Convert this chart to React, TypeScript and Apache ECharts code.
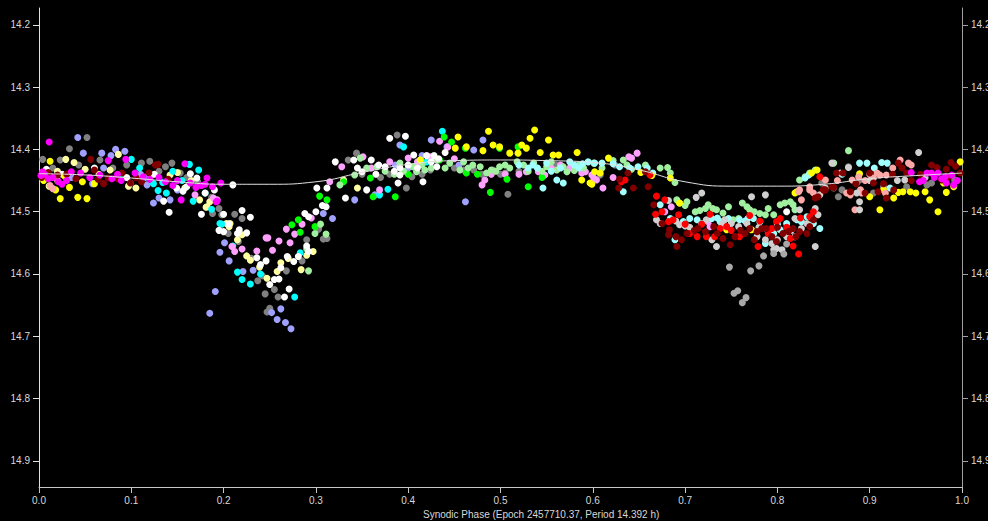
import React, { useEffect, useRef } from "react";
import * as echarts from "echarts";

const yTicks = [14.2, 14.3, 14.4, 14.5, 14.6, 14.7, 14.8, 14.9];
const axisTitle = "Synodic Phase (Epoch 2457710.37, Period 14.392 h)";

const fitPhase = [0, 0.05, 0.1, 0.15, 0.2, 0.25, 0.3, 0.35, 0.4, 0.45, 0.5, 0.55, 0.6, 0.65, 0.7, 0.75, 0.8, 0.85, 0.9, 0.95, 1.0];
const fitMag = [14.439, 14.441, 14.446, 14.452, 14.456, 14.456, 14.452, 14.437, 14.424, 14.418, 14.417, 14.418, 14.421, 14.433, 14.452, 14.459, 14.459, 14.456, 14.447, 14.442, 14.438];

const magenta = [
  [0.002, 14.442], [0.004, 14.436], [0.006, 14.44], [0.01, 14.447], [0.011, 14.388], [0.015, 14.445], [0.021, 14.452], [0.025, 14.456], [0.03, 14.45], [0.035, 14.436], [0.045, 14.438], [0.055, 14.445], [0.066, 14.441], [0.075, 14.418], [0.079, 14.447], [0.085, 14.44], [0.089, 14.45], [0.094, 14.416], [0.104, 14.438], [0.113, 14.444], [0.12, 14.448], [0.13, 14.445], [0.137, 14.452], [0.145, 14.458], [0.15, 14.45], [0.154, 14.481], [0.158, 14.423], [0.164, 14.454], [0.17, 14.461], [0.176, 14.458], [0.18, 14.456], [0.182, 14.446], [0.188, 14.46], [0.192, 14.484], [0.193, 14.483], [0.197, 14.454],
  [0.945, 14.437], [0.954, 14.452], [0.958, 14.45], [0.962, 14.438], [0.967, 14.438], [0.97, 14.445], [0.974, 14.438], [0.978, 14.447], [0.982, 14.444], [0.983, 14.454], [0.989, 14.441], [0.991, 14.457], [0.995, 14.45],
];

const yellow = [
  [0.005, 14.45], [0.012, 14.419], [0.018, 14.465], [0.023, 14.479], [0.028, 14.443], [0.033, 14.461], [0.042, 14.477], [0.047, 14.452], [0.052, 14.479], [0.06, 14.455],
  [0.413, 14.417], [0.451, 14.398], [0.454, 14.38], [0.463, 14.396], [0.481, 14.402], [0.487, 14.371], [0.492, 14.393], [0.499, 14.396], [0.51, 14.406], [0.519, 14.406], [0.523, 14.393], [0.528, 14.398], [0.532, 14.382], [0.537, 14.369], [0.543, 14.405], [0.552, 14.385], [0.557, 14.409], [0.563, 14.409], [0.583, 14.405], [0.588, 14.449], [0.597, 14.454],
  [0.599, 14.456], [0.602, 14.436], [0.608, 14.438], [0.617, 14.414], [0.652, 14.437], [0.664, 14.442], [0.684, 14.446],
  [0.694, 14.486], [0.74, 14.524], [0.745, 14.529], [0.772, 14.529], [0.819, 14.47], [0.821, 14.468],
  [0.837, 14.438], [0.843, 14.433], [0.889, 14.439], [0.9, 14.476], [0.911, 14.497], [0.915, 14.465], [0.926, 14.478], [0.931, 14.469], [0.936, 14.468], [0.944, 14.468], [0.95, 14.47], [0.96, 14.468], [0.965, 14.481], [0.974, 14.5], [0.98, 14.454], [0.983, 14.469], [0.991, 14.46], [0.998, 14.42],
];

const darkRed = [
  [0.003, 14.445], [0.01, 14.437], [0.02, 14.441], [0.03, 14.44], [0.04, 14.447], [0.056, 14.416], [0.06, 14.433], [0.064, 14.448], [0.07, 14.455], [0.075, 14.446], [0.085, 14.447], [0.09, 14.438], [0.099, 14.454], [0.105, 14.445], [0.111, 14.452], [0.119, 14.438], [0.126, 14.425], [0.129, 14.424], [0.14, 14.448],
  [0.628, 14.462], [0.629, 14.448], [0.638, 14.438], [0.644, 14.462], [0.657, 14.436], [0.66, 14.46], [0.666, 14.489], [0.675, 14.519], [0.682, 14.537], [0.683, 14.529], [0.69, 14.54], [0.691, 14.556], [0.696, 14.545], [0.702, 14.535], [0.71, 14.53], [0.714, 14.527], [0.722, 14.532], [0.731, 14.524], [0.735, 14.535], [0.741, 14.543], [0.749, 14.553], [0.754, 14.54], [0.76, 14.53], [0.765, 14.535], [0.77, 14.527], [0.775, 14.545], [0.778, 14.532], [0.783, 14.527], [0.788, 14.527], [0.794, 14.54], [0.799, 14.548], [0.8, 14.525], [0.806, 14.535], [0.812, 14.532], [0.817, 14.527], [0.82, 14.54], [0.824, 14.532], [0.832, 14.535], [0.835, 14.524], [0.839, 14.513], [0.841, 14.478], [0.844, 14.476], [0.85, 14.465], [0.852, 14.465], [0.859, 14.46], [0.861, 14.461], [0.864, 14.438],
  [0.871, 14.438], [0.879, 14.468], [0.885, 14.455], [0.895, 14.47], [0.9, 14.438], [0.904, 14.454], [0.909, 14.468], [0.915, 14.455], [0.918, 14.478], [0.925, 14.44], [0.926, 14.465], [0.931, 14.422], [0.935, 14.43], [0.94, 14.438], [0.945, 14.45], [0.955, 14.44], [0.967, 14.425], [0.973, 14.429], [0.978, 14.449], [0.983, 14.432], [0.985, 14.445], [0.988, 14.421], [0.993, 14.427], [0.998, 14.438],
];

const salmon = [
  [0.012, 14.458], [0.015, 14.463], [0.02, 14.45],
  [0.823, 14.468], [0.824, 14.465], [0.826, 14.481], [0.835, 14.46], [0.835, 14.465], [0.839, 14.47], [0.852, 14.449], [0.865, 14.45], [0.875, 14.47], [0.879, 14.473], [0.881, 14.449], [0.884, 14.497], [0.888, 14.444], [0.89, 14.465], [0.891, 14.47], [0.895, 14.45], [0.9, 14.44], [0.904, 14.446], [0.908, 14.438], [0.911, 14.441], [0.917, 14.47], [0.918, 14.441], [0.925, 14.43], [0.933, 14.417], [0.942, 14.422], [0.945, 14.425],
];

const gray = [
  [0.004, 14.416], [0.015, 14.43], [0.023, 14.417], [0.033, 14.399], [0.043, 14.425], [0.052, 14.381], [0.066, 14.417], [0.08, 14.43], [0.095, 14.425], [0.111, 14.422], [0.12, 14.419], [0.13, 14.435], [0.137, 14.428], [0.144, 14.422], [0.153, 14.438], [0.16, 14.445], [0.172, 14.452], [0.187, 14.477], [0.188, 14.503], [0.195, 14.495], [0.198, 14.505], [0.205, 14.535], [0.212, 14.504], [0.216, 14.548], [0.22, 14.511], [0.23, 14.575], [0.237, 14.611], [0.242, 14.603], [0.245, 14.632], [0.247, 14.661], [0.25, 14.655], [0.255, 14.625], [0.259, 14.637], [0.268, 14.595], [0.285, 14.579], [0.29, 14.545], [0.303, 14.528], [0.308, 14.544], [0.312, 14.543],
  [0.335, 14.417], [0.344, 14.406], [0.35, 14.44], [0.37, 14.445], [0.38, 14.44], [0.388, 14.377], [0.398, 14.462], [0.404, 14.444], [0.415, 14.44], [0.424, 14.433], [0.45, 14.43], [0.46, 14.433], [0.471, 14.433], [0.48, 14.44], [0.492, 14.433], [0.5, 14.44], [0.505, 14.438], [0.508, 14.472], [0.52, 14.435], [0.54, 14.43], [0.56, 14.425], [0.608, 14.441], [0.624, 14.425],
  [0.848, 14.454], [0.861, 14.462], [0.866, 14.476], [0.87, 14.465], [0.877, 14.428], [0.886, 14.454], [0.889, 14.449], [0.904, 14.47], [0.915, 14.46], [0.94, 14.46], [0.962, 14.457], [0.967, 14.454], [0.992, 14.449],
];

const silver = [
  [0.748, 14.589], [0.753, 14.631], [0.757, 14.627], [0.762, 14.646], [0.766, 14.638], [0.771, 14.595], [0.78, 14.587], [0.785, 14.571], [0.796, 14.567], [0.807, 14.568], [0.81, 14.552],
];

const lavender = [
  [0.035, 14.445], [0.042, 14.381], [0.048, 14.406], [0.058, 14.455], [0.068, 14.406], [0.07, 14.43], [0.078, 14.41], [0.083, 14.4], [0.093, 14.403], [0.099, 14.454], [0.11, 14.44], [0.117, 14.457], [0.124, 14.486], [0.13, 14.478], [0.142, 14.481], [0.15, 14.465],
  [0.185, 14.663], [0.191, 14.628], [0.196, 14.565], [0.201, 14.55], [0.206, 14.579], [0.221, 14.596], [0.232, 14.594], [0.252, 14.662], [0.258, 14.673], [0.262, 14.656], [0.267, 14.678], [0.273, 14.688], [0.308, 14.503], [0.318, 14.511], [0.342, 14.481], [0.364, 14.473],
  [0.386, 14.425], [0.391, 14.393], [0.4, 14.43], [0.415, 14.41], [0.425, 14.385], [0.442, 14.396], [0.455, 14.425], [0.462, 14.484], [0.471, 14.401], [0.481, 14.385],
];

const cyan = [
  [0.088, 14.441], [0.1, 14.416], [0.109, 14.43], [0.115, 14.445], [0.124, 14.455], [0.129, 14.466], [0.134, 14.453], [0.138, 14.47], [0.145, 14.435], [0.155, 14.45], [0.163, 14.424], [0.167, 14.483], [0.173, 14.433], [0.18, 14.47], [0.187, 14.496], [0.196, 14.519], [0.198, 14.52], [0.21, 14.555], [0.215, 14.597], [0.22, 14.609], [0.229, 14.616], [0.24, 14.6], [0.277, 14.637], [0.283, 14.566],
  [0.369, 14.473], [0.378, 14.464], [0.395, 14.396], [0.41, 14.425], [0.42, 14.42], [0.437, 14.371],
];

const khaki = [
  [0.011, 14.459], [0.02, 14.435], [0.029, 14.416], [0.038, 14.421], [0.05, 14.432], [0.065, 14.44], [0.077, 14.433], [0.086, 14.408], [0.097, 14.459], [0.105, 14.462], [0.12, 14.445], [0.142, 14.441], [0.15, 14.437], [0.158, 14.462], [0.165, 14.45], [0.174, 14.481], [0.181, 14.493], [0.182, 14.492], [0.185, 14.484], [0.203, 14.519], [0.206, 14.524], [0.207, 14.519], [0.215, 14.545], [0.22, 14.537], [0.225, 14.571], [0.229, 14.578], [0.239, 14.589], [0.247, 14.607], [0.258, 14.596], [0.262, 14.582], [0.27, 14.575], [0.284, 14.593], [0.29, 14.57], [0.297, 14.564], [0.33, 14.449], [0.345, 14.462],
];

const white = [
  [0.008, 14.432], [0.025, 14.44], [0.06, 14.43], [0.095, 14.445], [0.125, 14.44],
  [0.135, 14.483], [0.141, 14.501], [0.149, 14.462], [0.156, 14.467], [0.16, 14.46], [0.164, 14.439], [0.171, 14.446], [0.176, 14.504], [0.18, 14.47], [0.19, 14.465], [0.195, 14.53], [0.2, 14.504], [0.2, 14.532], [0.205, 14.52], [0.21, 14.457], [0.215, 14.535], [0.217, 14.529], [0.22, 14.498], [0.225, 14.534], [0.229, 14.509], [0.236, 14.574], [0.24, 14.585], [0.246, 14.579], [0.25, 14.617], [0.255, 14.609], [0.26, 14.608], [0.262, 14.59], [0.266, 14.637], [0.269, 14.572], [0.271, 14.624], [0.276, 14.58], [0.281, 14.572], [0.288, 14.503], [0.29, 14.555], [0.292, 14.508], [0.292, 14.564], [0.3, 14.5], [0.301, 14.462], [0.307, 14.49], [0.311, 14.492], [0.312, 14.462], [0.321, 14.42], [0.332, 14.478], [0.341, 14.417], [0.345, 14.43], [0.35, 14.436], [0.355, 14.465], [0.36, 14.417], [0.365, 14.44], [0.368, 14.425], [0.375, 14.428], [0.38, 14.382], [0.385, 14.435], [0.389, 14.454], [0.391, 14.43], [0.391, 14.441], [0.397, 14.379], [0.4, 14.425], [0.406, 14.409], [0.41, 14.43], [0.413, 14.417], [0.416, 14.452], [0.42, 14.41], [0.425, 14.42], [0.428, 14.41], [0.431, 14.428], [0.433, 14.415], [0.44, 14.405], [0.81, 14.5],
];

const violet = [
  [0.169, 14.473], [0.189, 14.478], [0.193, 14.481], [0.209, 14.556], [0.212, 14.564], [0.22, 14.56], [0.236, 14.563], [0.246, 14.542], [0.248, 14.542], [0.253, 14.562], [0.26, 14.547], [0.268, 14.528], [0.272, 14.55], [0.277, 14.536], [0.285, 14.52], [0.295, 14.51],
  [0.315, 14.452], [0.328, 14.428], [0.351, 14.412], [0.36, 14.43], [0.369, 14.465], [0.38, 14.42], [0.4, 14.414], [0.41, 14.42], [0.424, 14.412], [0.434, 14.387], [0.443, 14.396], [0.45, 14.415], [0.48, 14.457], [0.483, 14.449], [0.49, 14.44], [0.505, 14.44], [0.52, 14.44], [0.528, 14.436], [0.541, 14.436], [0.548, 14.441], [0.555, 14.43], [0.565, 14.425], [0.575, 14.43], [0.588, 14.438], [0.592, 14.436], [0.599, 14.441], [0.601, 14.446], [0.604, 14.449], [0.611, 14.462], [0.622, 14.445], [0.639, 14.412], [0.642, 14.414], [0.648, 14.406],
  [0.678, 14.5], [0.685, 14.492], [0.725, 14.516], [0.727, 14.524],
];

const green = [
  [0.274, 14.521], [0.281, 14.513], [0.283, 14.533], [0.299, 14.524], [0.304, 14.475], [0.312, 14.481], [0.33, 14.452], [0.359, 14.446], [0.362, 14.476], [0.386, 14.476], [0.4, 14.44], [0.434, 14.417], [0.439, 14.38], [0.447, 14.388], [0.462, 14.398], [0.463, 14.438], [0.475, 14.44], [0.489, 14.469], [0.499, 14.398], [0.507, 14.448], [0.519, 14.396], [0.53, 14.46], [0.545, 14.445],
];

const paleGreen = [
  [0.29, 14.56], [0.292, 14.595], [0.299, 14.535], [0.305, 14.52], [0.311, 14.536], [0.326, 14.457], [0.342, 14.441], [0.348, 14.414], [0.355, 14.43], [0.366, 14.428], [0.375, 14.435], [0.385, 14.44], [0.391, 14.422], [0.395, 14.435], [0.405, 14.428], [0.409, 14.436], [0.415, 14.425], [0.418, 14.433], [0.425, 14.43], [0.431, 14.417], [0.44, 14.43], [0.445, 14.422], [0.456, 14.433], [0.46, 14.42], [0.465, 14.43], [0.47, 14.425], [0.478, 14.428], [0.485, 14.438], [0.49, 14.433], [0.495, 14.435], [0.499, 14.428], [0.505, 14.425], [0.51, 14.43], [0.518, 14.42], [0.525, 14.425], [0.53, 14.435], [0.536, 14.422], [0.545, 14.435], [0.55, 14.428], [0.555, 14.42], [0.561, 14.433], [0.568, 14.428], [0.572, 14.436], [0.58, 14.434], [0.585, 14.425], [0.59, 14.43], [0.601, 14.422], [0.61, 14.43], [0.622, 14.418], [0.633, 14.417], [0.637, 14.425], [0.642, 14.432], [0.657, 14.425], [0.673, 14.43], [0.681, 14.429], [0.684, 14.438], [0.689, 14.453],
  [0.691, 14.481], [0.694, 14.486], [0.7, 14.49], [0.702, 14.484], [0.711, 14.5], [0.716, 14.498], [0.722, 14.495], [0.725, 14.489], [0.73, 14.495], [0.734, 14.497], [0.741, 14.502], [0.747, 14.492], [0.752, 14.513], [0.758, 14.511], [0.762, 14.486], [0.767, 14.492], [0.77, 14.497], [0.775, 14.5], [0.781, 14.503], [0.787, 14.505], [0.79, 14.495], [0.796, 14.505], [0.803, 14.489], [0.808, 14.486], [0.814, 14.484], [0.817, 14.489], [0.819, 14.497], [0.824, 14.449], [0.83, 14.444], [0.835, 14.438], [0.841, 14.433], [0.861, 14.422], [0.877, 14.402],
];

const lightCyan = [
  [0.52, 14.425], [0.53, 14.43], [0.535, 14.425], [0.54, 14.43], [0.546, 14.462], [0.55, 14.422], [0.555, 14.435], [0.561, 14.449], [0.565, 14.43], [0.568, 14.454], [0.575, 14.42], [0.58, 14.425], [0.585, 14.43], [0.589, 14.423], [0.595, 14.42], [0.602, 14.422], [0.61, 14.422], [0.622, 14.423], [0.629, 14.428], [0.633, 14.468], [0.64, 14.43], [0.649, 14.428], [0.659, 14.43], [0.665, 14.438],
  [0.673, 14.489], [0.684, 14.511], [0.689, 14.545], [0.698, 14.516], [0.7, 14.52], [0.705, 14.511], [0.713, 14.513], [0.718, 14.519], [0.729, 14.511], [0.735, 14.51], [0.738, 14.516], [0.747, 14.511], [0.759, 14.513], [0.765, 14.515], [0.768, 14.511], [0.774, 14.511], [0.781, 14.516], [0.787, 14.551], [0.79, 14.532], [0.796, 14.535], [0.8, 14.52], [0.803, 14.529], [0.81, 14.519], [0.821, 14.513], [0.826, 14.516], [0.83, 14.446], [0.832, 14.508], [0.834, 14.441], [0.839, 14.519], [0.846, 14.527],
  [0.87, 14.44], [0.889, 14.422], [0.897, 14.422], [0.905, 14.43], [0.913, 14.421], [0.919, 14.422], [0.922, 14.462],
];

const red = [
  [0.631, 14.452], [0.635, 14.449], [0.662, 14.441], [0.668, 14.504], [0.669, 14.475], [0.675, 14.5], [0.678, 14.481], [0.682, 14.516], [0.687, 14.513], [0.693, 14.505], [0.7, 14.52], [0.705, 14.535], [0.713, 14.54], [0.718, 14.52], [0.723, 14.54], [0.727, 14.504], [0.732, 14.54], [0.738, 14.527], [0.745, 14.524], [0.75, 14.53], [0.759, 14.54], [0.77, 14.506], [0.779, 14.556], [0.781, 14.515], [0.79, 14.535], [0.794, 14.527], [0.799, 14.516], [0.803, 14.511], [0.81, 14.525], [0.814, 14.543], [0.817, 14.555], [0.823, 14.568], [0.825, 14.51], [0.835, 14.508], [0.839, 14.5], [0.846, 14.444], [0.85, 14.465],
];

const lightGray = [
  [0.669, 14.513], [0.673, 14.519], [0.682, 14.482], [0.69, 14.515], [0.694, 14.521], [0.7, 14.523], [0.705, 14.525], [0.712, 14.477], [0.718, 14.47], [0.723, 14.513], [0.729, 14.545], [0.734, 14.556], [0.74, 14.52], [0.743, 14.513], [0.75, 14.519], [0.758, 14.524], [0.767, 14.519], [0.772, 14.476], [0.778, 14.54], [0.78, 14.525], [0.787, 14.473], [0.787, 14.545], [0.794, 14.551], [0.796, 14.561], [0.799, 14.559], [0.8, 14.545], [0.805, 14.561], [0.81, 14.54], [0.815, 14.53], [0.819, 14.511], [0.819, 14.54], [0.824, 14.497], [0.826, 14.527], [0.832, 14.519], [0.841, 14.556], [0.841, 14.495], [0.844, 14.505], [0.846, 14.473], [0.852, 14.462], [0.859, 14.422], [0.868, 14.438], [0.877, 14.429], [0.886, 14.47], [0.889, 14.484], [0.889, 14.497], [0.9, 14.45], [0.93, 14.45], [0.938, 14.449], [0.953, 14.405], [0.96, 14.445],
];

const groups: [string, string, number[][]][] = [
  ["gray", "#808080", gray],
  ["lavender", "#a0a0ff", lavender],
  ["khaki", "#ffffa0", khaki],
  ["cyan", "#00ffff", cyan],
  ["violet", "#ffa0ff", violet],
  ["green", "#00ff00", green],
  ["paleGreen", "#a0f0a0", paleGreen],
  ["white", "#ffffff", white],
  ["lightCyan", "#a0ffff", lightCyan],
  ["yellow", "#ffff00", yellow],
  ["salmon", "#ffa8a8", salmon],
  ["lightGray", "#d0d0d0", lightGray],
  ["silver", "#a8a8a8", silver],
  ["red", "#ff0000", red],
  ["darkRed", "#800000", darkRed],
  ["magenta", "#ff00ff", magenta],
];

const FONT = "Liberation Sans, Arial, sans-serif";

export default function App() {
  const ref = useRef<HTMLDivElement>(null);
  useEffect(() => {
    if (!ref.current) return;
    const chart = echarts.init(ref.current, null, { renderer: "svg" });
    const yAxisBase = (pos: "left" | "right", lineColor: string) => ({
      type: "value",
      position: pos,
      inverse: true,
      min: 14.173,
      max: 14.942,
      axisLine: { show: true, lineStyle: { color: lineColor, width: 1 } },
      axisTick: { show: true, length: 6, inside: false, customValues: yTicks, lineStyle: { color: lineColor } },
      axisLabel: {
        customValues: yTicks,
        color: "#d8d8d8",
        fontSize: 10,
        fontFamily: FONT,
        margin: 9,
        formatter: (v: number) => v.toFixed(1),
      },
      splitLine: { show: false },
    });
    chart.setOption({
      animation: false,
      backgroundColor: "#000000",
      grid: { left: 39, right: 26, top: 8, bottom: 34, containLabel: false, outerBoundsMode: "none" },
      xAxis: {
        type: "value",
        min: 0,
        max: 1,
        interval: 0.1,
        axisLine: { show: true, lineStyle: { color: "#c8c8c8" } },
        axisTick: { show: true, length: 6, lineStyle: { color: "#c8c8c8" } },
        axisLabel: {
          color: "#d8d8d8",
          fontSize: 10,
          fontFamily: FONT,
          margin: 8,
          formatter: (v: number) => v.toFixed(1),
        },
        splitLine: { show: false },
      },
      yAxis: [yAxisBase("left", "#e0e0e0"), yAxisBase("right", "#a0a0a0")],
      graphic: [
        {
          type: "text",
          left: 423,
          top: 509,
          style: { text: axisTitle, fill: "#d8d8d8", font: `10px ${FONT}` },
        },
      ],
      series: [
        ...groups.map(([name, color, data]) => ({
          name,
          type: "scatter",
          yAxisIndex: 0,
          symbol: "circle",
          symbolSize: 7,
          itemStyle: { color, opacity: 1 },
          data,
          silent: true,
        })),
        {
          name: "fit",
          type: "line",
          yAxisIndex: 0,
          smooth: true,
          showSymbol: false,
          symbol: "none",
          lineStyle: { color: "#e0e0e0", width: 1 },
          data: fitPhase.map((p, i) => [p, fitMag[i]]),
          silent: true,
          z: 3,
        },
      ],
    });
    return () => chart.dispose();
  }, []);
  return (
    <div
      ref={ref}
      style={{ position: "fixed", left: 0, top: 0, width: 988, height: 521, background: "#000" }}
    />
  );
}
